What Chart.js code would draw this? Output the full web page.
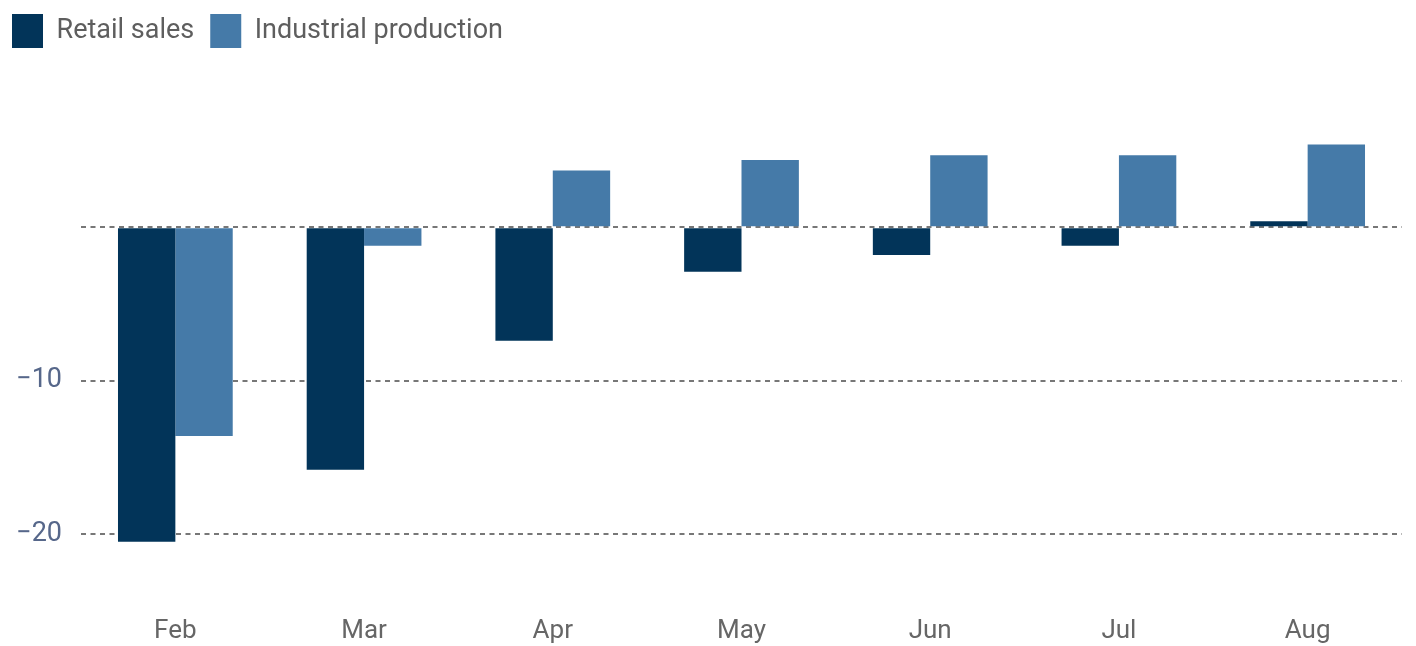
<!DOCTYPE html>
<html>
<head>
<meta charset="utf-8">
<script src="https://cdn.jsdelivr.net/npm/chart.js@4"></script>
<style>
  html, body { margin: 0; padding: 0; background: #ffffff; }
  #wrap { width: 1416px; height: 646px; position: relative; }
</style>
</head>
<body>
<div id="wrap"><canvas id="c"></canvas></div>
<script>
const categories = ['Feb', 'Mar', 'Apr', 'May', 'Jun', 'Jul', 'Aug'];
const retailSales = [-20.5, -15.8, -7.4, -2.9, -1.8, -1.2, 0.4];
const industrialProduction = [-13.6, -1.2, 3.7, 4.4, 4.7, 4.7, 5.4];
const yTickValues = [-20, -10, 0];
const seriesNames = ['Retail sales', 'Industrial production'];

const legendSpacer = {
  id: 'legendSpacer',
  beforeInit(chart) {
    const origFit = chart.legend.fit;
    chart.legend.fit = function () {
      origFit.bind(chart.legend)();
      this.height += 16;
    };
  }
};

new Chart(document.getElementById('c'), {
  type: 'bar',
  data: {
    labels: categories,
    datasets: [
      { label: seriesNames[0], data: retailSales, backgroundColor: '#023459', borderWidth: 0 },
      { label: seriesNames[1], data: industrialProduction, backgroundColor: '#457aa8', borderWidth: 0 }
    ]
  },
  options: {
    responsive: true,
    maintainAspectRatio: false,
    animation: false,
    datasets: { bar: { barPercentage: 1, categoryPercentage: 0.608 } },
    layout: { padding: { left: -4, right: 14, top: -2, bottom: -7 } },
    plugins: {
      tooltip: { enabled: false },
      legend: {
        position: 'top',
        align: 'start',
        labels: {
          boxWidth: 31,
          boxHeight: 34,
          padding: 16,
          color: '#5e5e5e',
          font: { family: 'Roboto', size: 27 }
        }
      }
    },
    scales: {
      x: {
        grid: { display: false, drawTicks: false },
        border: { display: false },
        ticks: { color: '#666666', padding: 8, font: { family: 'Roboto', size: 26, lineHeight: 1 } }
      },
      y: {
        min: -25,
        max: 10,
        afterBuildTicks: (scale) => { scale.ticks = yTickValues.map(v => ({ value: v })); },
        afterFit: (scale) => { scale.width = 85; },
        grid: {
          color: '#777777',
          lineWidth: 2,
          drawTicks: false
        },
        border: { display: false, dash: [5, 4.5] },
        ticks: {
          color: '#56678a',
          padding: 19,
          font: { family: 'Roboto', size: 27 },
          callback: (v) => v === 0 ? '' : (v < 0 ? '\u2212' + Math.abs(v) : String(v))
        }
      }
    }
  },
  plugins: [legendSpacer]
});
</script>
</body>
</html>
